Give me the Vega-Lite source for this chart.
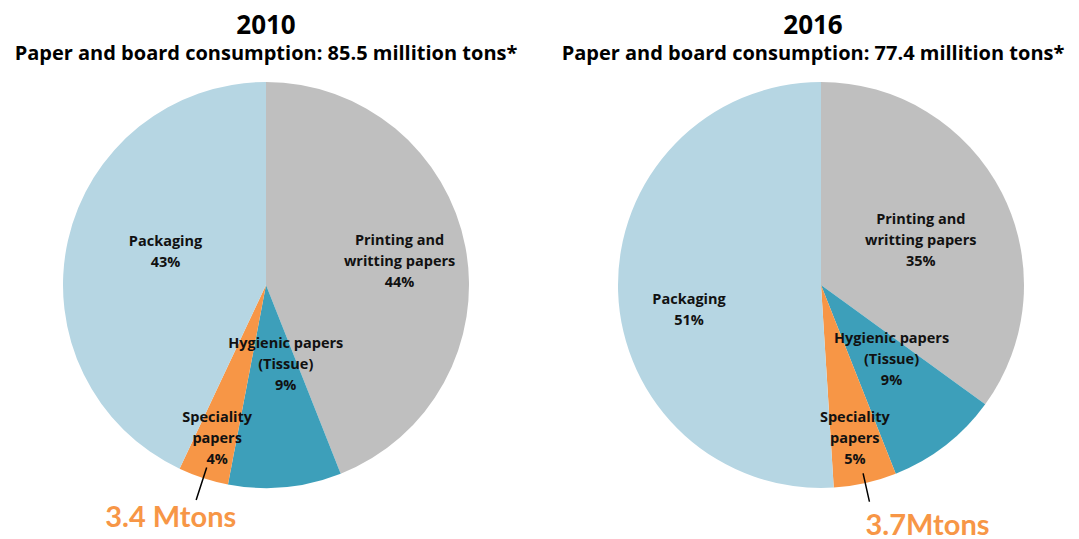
{
  "$schema": "https://vega.github.io/schema/vega-lite/v6.json",
  "padding": {"left": 0, "top": 13, "right": 0, "bottom": 0},
  "spacing": 29,
  "background": "white",
  "config": {"view": {"stroke": null}},
  "datasets": {
    "d2010": [
      {"idx": 1, "category": "Printing", "pct": 44, "label": "Printing and\nwritting papers\n44%", "note": ""},
      {"idx": 2, "category": "Hygienic", "pct": 9, "label": "Hygienic papers\n(Tissue)\n9%", "note": ""},
      {"idx": 3, "category": "Speciality", "pct": 4, "label": "Speciality\npapers\n4%", "note": "3.4 Mtons"},
      {"idx": 4, "category": "Packaging", "pct": 43, "label": "Packaging\n43%", "note": ""}
    ],
    "d2016": [
      {"idx": 1, "category": "Printing", "pct": 35, "label": "Printing and\nwritting papers\n35%", "note": ""},
      {"idx": 2, "category": "Hygienic", "pct": 9, "label": "Hygienic papers\n(Tissue)\n9%", "note": ""},
      {"idx": 3, "category": "Speciality", "pct": 5, "label": "Speciality\npapers\n5%", "note": "3.7Mtons"},
      {"idx": 4, "category": "Packaging", "pct": 51, "label": "Packaging\n51%", "note": ""}
    ]
  },
  "hconcat": [
    {
      "width": 532,
      "height": 412,
      "data": {"name": "d2010"},
      "title": {
        "text": "2010",
        "subtitle": "Paper and board consumption: 85.5 millition tons*",
        "anchor": "middle",
        "dx": 0,
        "font": "Open Sans", "subtitleFont": "Open Sans",
        "fontSize": 26, "subtitleFontSize": 20,
        "fontWeight": "bold", "subtitleFontWeight": "bold",
        "color": "#000000", "subtitleColor": "#000000",
        "offset": 15, "subtitlePadding": 5
      },
      "encoding": {
        "theta": {"field": "pct", "type": "quantitative", "stack": true},
        "order": {"field": "idx", "type": "quantitative"}
      },
      "layer": [
        {
          "mark": {"type": "arc", "radius": 203},
          "encoding": {
            "color": {"field": "category", "type": "nominal", "legend": null,
              "scale": {"domain": ["Printing", "Hygienic", "Speciality", "Packaging"],
                        "range": ["#bfbfbf", "#3d9fba", "#f79646", "#b6d6e3"]}}
          }
        },
        {
          "mark": {"type": "text", "radius": 136, "dy": -19, "font": "Open Sans", "fontWeight": "bold", "fontSize": 14.5, "lineBreak": "\n", "lineHeight": 21, "align": "center", "baseline": "middle", "color": "#111111"},
          "encoding": {"text": {"condition": {"test": "datum.category === 'Printing'", "field": "label"}, "value": ""}}
        },
        {
          "mark": {"type": "text", "radius": 82, "dx": 12, "dy": -23, "font": "Open Sans", "fontWeight": "bold", "fontSize": 14.5, "lineBreak": "\n", "lineHeight": 21, "align": "center", "baseline": "middle", "color": "#111111"},
          "encoding": {"text": {"condition": {"test": "datum.category === 'Hygienic'", "field": "label"}, "value": ""}}
        },
        {
          "mark": {"type": "text", "radius": 158, "dy": -17, "font": "Open Sans", "fontWeight": "bold", "fontSize": 14.5, "lineBreak": "\n", "lineHeight": 21, "align": "center", "baseline": "middle", "color": "#111111"},
          "encoding": {"text": {"condition": {"test": "datum.category === 'Speciality'", "field": "label"}, "value": ""}}
        },
        {
          "mark": {"type": "text", "radius": 106, "dx": 3, "dy": -20, "font": "Open Sans", "fontWeight": "bold", "fontSize": 14.5, "lineBreak": "\n", "lineHeight": 21, "align": "center", "baseline": "middle", "color": "#111111"},
          "encoding": {"text": {"condition": {"test": "datum.category === 'Packaging'", "field": "label"}, "value": ""}}
        },
        {
          "mark": {"type": "arc", "radius": 226, "radius2": 192, "padAngle": 3, "fill": null, "stroke": "#000000", "strokeWidth": 1.5},
          "encoding": {"strokeOpacity": {"condition": {"test": "datum.category === 'Speciality'", "value": 1}, "value": 0}}
        },
        {
          "mark": {"type": "text", "radius": 250, "dx": -18, "dy": -5, "font": "Lato", "fontWeight": "bold", "fontSize": 29, "align": "center", "baseline": "middle", "color": "#f79646"},
          "encoding": {"text": {"field": "note"}}
        }
      ]
    },
    {
      "width": 518,
      "height": 412,
      "data": {"name": "d2016"},
      "title": {
        "text": "2016",
        "subtitle": "Paper and board consumption: 77.4 millition tons*",
        "anchor": "middle",
        "dx": -8,
        "font": "Open Sans", "subtitleFont": "Open Sans",
        "fontSize": 26, "subtitleFontSize": 20,
        "fontWeight": "bold", "subtitleFontWeight": "bold",
        "color": "#000000", "subtitleColor": "#000000",
        "offset": 15, "subtitlePadding": 5
      },
      "encoding": {
        "theta": {"field": "pct", "type": "quantitative", "stack": true},
        "order": {"field": "idx", "type": "quantitative"}
      },
      "layer": [
        {
          "mark": {"type": "arc", "radius": 203},
          "encoding": {
            "color": {"field": "category", "type": "nominal", "legend": null,
              "scale": {"domain": ["Printing", "Hygienic", "Speciality", "Packaging"],
                        "range": ["#bfbfbf", "#3d9fba", "#f79646", "#b6d6e3"]}}
          }
        },
        {
          "mark": {"type": "text", "radius": 112, "dy": -14, "font": "Open Sans", "fontWeight": "bold", "fontSize": 14.5, "lineBreak": "\n", "lineHeight": 21, "align": "center", "baseline": "middle", "color": "#111111"},
          "encoding": {"text": {"condition": {"test": "datum.category === 'Printing'", "field": "label"}, "value": ""}}
        },
        {
          "mark": {"type": "text", "radius": 102, "dx": 8, "dy": -27, "font": "Open Sans", "fontWeight": "bold", "fontSize": 14.5, "lineBreak": "\n", "lineHeight": 21, "align": "center", "baseline": "middle", "color": "#111111"},
          "encoding": {"text": {"condition": {"test": "datum.category === 'Hygienic'", "field": "label"}, "value": ""}}
        },
        {
          "mark": {"type": "text", "radius": 155, "dy": -18, "font": "Open Sans", "fontWeight": "bold", "fontSize": 14.5, "lineBreak": "\n", "lineHeight": 21, "align": "center", "baseline": "middle", "color": "#111111"},
          "encoding": {"text": {"condition": {"test": "datum.category === 'Speciality'", "field": "label"}, "value": ""}}
        },
        {
          "mark": {"type": "text", "radius": 132, "dy": 11, "font": "Open Sans", "fontWeight": "bold", "fontSize": 14.5, "lineBreak": "\n", "lineHeight": 21, "align": "center", "baseline": "middle", "color": "#111111"},
          "encoding": {"text": {"condition": {"test": "datum.category === 'Packaging'", "field": "label"}, "value": ""}}
        },
        {
          "mark": {"type": "arc", "radius": 222, "radius2": 193, "padAngle": 3, "fill": null, "stroke": "#000000", "strokeWidth": 1.5},
          "encoding": {"strokeOpacity": {"condition": {"test": "datum.category === 'Speciality'", "value": 1}, "value": 0}}
        },
        {
          "mark": {"type": "text", "radius": 250, "dx": 52, "dy": -3, "font": "Lato", "fontWeight": "bold", "fontSize": 29, "align": "center", "baseline": "middle", "color": "#f79646"},
          "encoding": {"text": {"field": "note"}}
        }
      ]
    }
  ]
}
